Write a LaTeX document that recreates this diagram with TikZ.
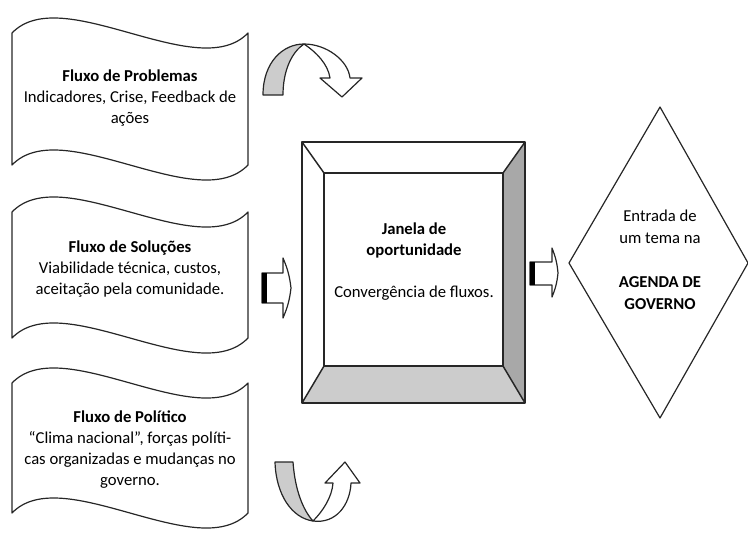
\documentclass[tikz,border=0pt]{standalone}
\usepackage{fontspec}
\setmainfont{Carlito}
\usepackage{xcolor}
\usepackage{tikz}
\usetikzlibrary{positioning}
\definecolor{bevelgray}{gray}{0.66}
\definecolor{floorgray}{gray}{0.80}
\definecolor{bandgray}{gray}{0.80}
\tikzset{
txt/.style={align=center, inner sep=0pt, font=\fontsize{12.5}{15.75}\selectfont},
outline/.style={draw=black!85, line width=0.9pt, line join=round},
}

\begin{document}
\begin{tikzpicture}[x=0.75pt,y=-0.75pt]
	\useasboundingbox (0,0) rectangle (748,532);
	% the three streams
	\foreach \t/\b in {33/165, 212/338, 383/513}
		\draw[outline] (12,\t) .. controls (62,\t-52) and (198,\t+52) .. (248,\t) -- (248,\b)
			.. controls (198,\b+52) and (62,\b-52) .. (12,\b) -- cycle;
	\node[txt] (prob) at (130,98) {\textbf{Fluxo de Problemas}\\Indicadores, Crise, Feedback de\\ações};
	\node[txt] (sol) at (130,269) {\textbf{Fluxo de Soluções}\\Viabilidade técnica, custos,\\aceitação pela comunidade.};
	\node[txt] (pol) at (130,450) {\textbf{Fluxo de Político}\\“Clima nacional”, forças políti-\\cas organizadas e mudanças no\\governo.};
	% window
	\fill[bevelgray] (525,142) -- (525,403) -- (503,366) -- (503,173) -- cycle;
	\fill[floorgray] (302,403) -- (525,403) -- (503,366) -- (324,366) -- cycle;
	\draw[outline, line width=1.1pt] (302,142) rectangle (525,403) (324,173) rectangle (503,366);
	\draw[outline, line width=1.1pt] (302,142) -- (324,173) (525,142) -- (503,173)
		(302,403) -- (324,366) (525,403) -- (503,366);
	\node[txt] (janela) at (414,262) {\textbf{Janela de}\\\textbf{oportunidade}\\[15.75pt]Convergência de fluxos.};
	% agenda
	\draw[outline] (660,107) -- (748,263) -- (660,418) -- (569,263) -- cycle;
	\node[txt, font=\fontsize{12.5}{16.5}\selectfont] (agenda) at (660,260) {Entrada de\\um tema na\\[16.5pt]\textbf{AGENDA DE}\\\textbf{GOVERNO}};
	% block arrows
	\draw[outline] (262,273) -- (283,273) -- (283,258) to[bend left=8] (291,288)
		to[bend left=8] (283,318) -- (283,303) -- (262,303) -- cycle;
	\fill (262,273) rectangle (267,303);
	\draw[outline] (530,262) -- (552,262) -- (552,248) to[bend left=8] (558,273)
		to[bend left=8] (552,297) -- (552,285) -- (530,285) -- cycle;
	\fill (530,262) rectangle (535,285);
	% curved arrow at the top
	\draw[outline, fill=bandgray] (263,95) .. controls (263,62) and (283,44) .. (304,44)
		.. controls (292,52) and (283,70) .. (283,95) -- cycle;
	\draw[outline, fill=white] (304,44) .. controls (326,44) and (348,60) .. (350,78) -- (362,78) -- (342,97)
		-- (320,78) -- (330,78) .. controls (328,64) and (316,52) .. (304,44) -- cycle;
	% curved arrow at the bottom
	\draw[outline, fill=bandgray] (275,462) -- (293,462) .. controls (295,490) and (303,510) .. (313,521)
		.. controls (292,518) and (276,495) .. (275,462) -- cycle;
	\draw[outline, fill=white] (313,521) .. controls (323,511) and (332,497) .. (333,483) -- (325,483) -- (345,462)
		-- (360,483) -- (351,483) .. controls (350,505) and (336,524) .. (313,521) -- cycle;
\end{tikzpicture}
\end{document}
